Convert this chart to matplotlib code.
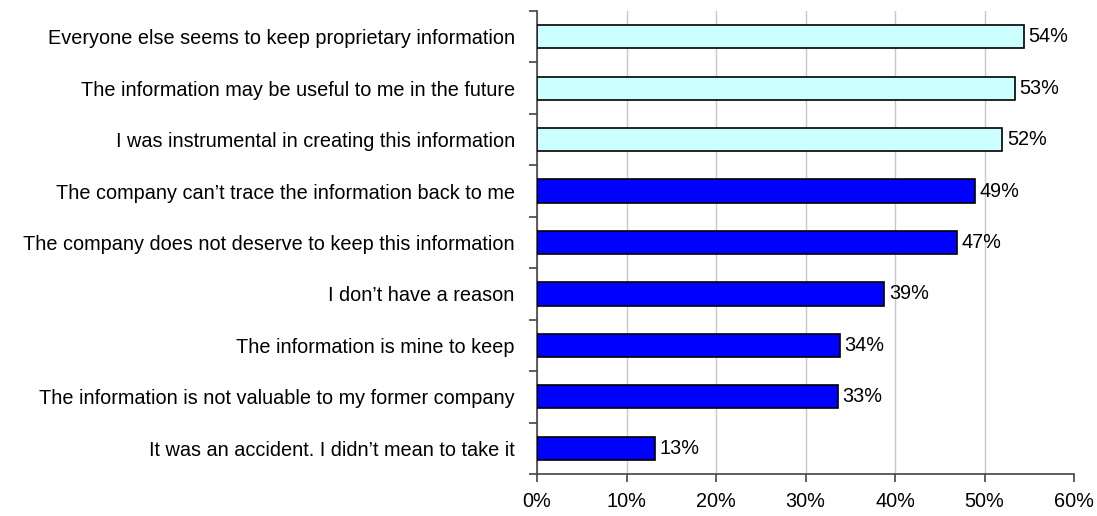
import numpy as np
import matplotlib.pyplot as plt
from matplotlib.ticker import FixedLocator, PercentFormatter

plt.rcParams['font.family'] = ['Liberation Sans', 'DejaVu Sans']

reasons = [
    "Everyone else seems to keep proprietary information",
    "The information may be useful to me in the future",
    "I was instrumental in creating this information",
    "The company can\u2019t trace the information back to me",
    "The company does not deserve to keep this information",
    "I don\u2019t have a reason",
    "The information is mine to keep",
    "The information is not valuable to my former company",
    "It was an accident. I didn\u2019t mean to take it",
]
shares = [54.4, 53.4, 52.0, 48.9, 46.9, 38.8, 33.8, 33.6, 13.2]
share_labels = ["54%", "53%", "52%", "49%", "47%", "39%", "34%", "33%", "13%"]
highlight = [True, True, True, False, False, False, False, False, False]

fs = 14.3

fig = plt.figure(figsize=(10.97, 5.16), dpi=100)
ax = fig.add_axes([537 / 1097, 1 - 474 / 516, 537 / 1097, 463 / 516])

ypos = np.arange(len(reasons))[::-1]
colors = ['#ccffff' if h else '#0000ff' for h in highlight]
ax.barh(ypos, shares, height=0.45, color=colors, edgecolor='black', linewidth=1.2, zorder=3)

for y, v, lab in zip(ypos, shares, share_labels):
    ax.text(v + 0.5, y, lab, va='center', ha='left', fontsize=fs)

ax.set_xlim(0, 60)
ax.set_ylim(-0.5, len(reasons) - 0.5)
ax.set_xticks(np.arange(0, 61, 10))
ax.xaxis.set_major_formatter(PercentFormatter(decimals=0))
ax.set_yticks(ypos)
ax.set_yticklabels(reasons)
ax.yaxis.set_minor_locator(FixedLocator(np.arange(-0.5, len(reasons), 1)))
ax.tick_params(axis='y', which='major', length=0, pad=16, labelsize=fs)
ax.tick_params(axis='y', which='minor', length=6, width=1.2, color='#444444')
ax.tick_params(axis='x', length=6, width=1.2, color='#444444', labelsize=fs, pad=7)

ax.grid(axis='x', color='#c8c8c8', linewidth=1, zorder=0)
ax.get_xgridlines()[-1].set_visible(False)
for s in ['top', 'right']:
    ax.spines[s].set_visible(False)
for s in ['left', 'bottom']:
    ax.spines[s].set_color('#444444')
    ax.spines[s].set_linewidth(1.2)

fig.savefig('out.png', dpi=100)
